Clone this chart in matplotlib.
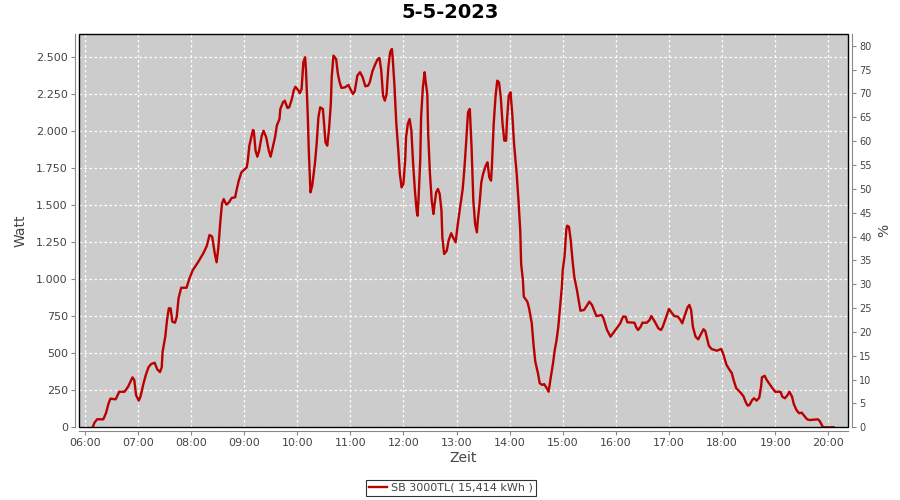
import numpy as np
import matplotlib
matplotlib.use('Agg')
from matplotlib import pyplot as plt
from matplotlib.ticker import FuncFormatter, MultipleLocator

# power readings of the inverter (time of day, watts)
zeit = ['06:09', '06:11', '06:14', '06:21', '06:24', '06:27', '06:29', '06:35', '06:39', '06:45',
        '06:49', '06:54', '06:56', '06:58', '07:01', '07:03', '07:06', '07:09', '07:12', '07:15',
        '07:19', '07:22', '07:25', '07:27', '07:28', '07:31', '07:33', '07:35', '07:37', '07:39',
        '07:42', '07:44', '07:46', '07:49', '07:55', '07:58', '08:02', '08:08', '08:14', '08:18',
        '08:21', '08:24', '08:27', '08:29', '08:31', '08:33', '08:35', '08:37', '08:40', '08:43',
        '08:46', '08:50', '08:51', '08:54', '08:57', '09:03', '09:04', '09:06', '09:10', '09:11',
        '09:13', '09:15', '09:17', '09:20', '09:22', '09:25', '09:28', '09:30', '09:32', '09:35',
        '09:37', '09:40', '09:41', '09:44', '09:46', '09:49', '09:51', '09:54', '09:56', '09:58',
        '10:01', '10:03', '10:05', '10:07', '10:09', '10:10', '10:12', '10:13', '10:15', '10:17',
        '10:20', '10:22', '10:24', '10:26', '10:29', '10:30', '10:32', '10:34', '10:36', '10:38',
        '10:39', '10:41', '10:44', '10:46', '10:48', '10:50', '10:54', '10:58', '11:00', '11:03',
        '11:05', '11:08', '11:11', '11:14', '11:17', '11:20', '11:22', '11:25', '11:28', '11:31',
        '11:33', '11:35', '11:37', '11:39', '11:41', '11:43', '11:45', '11:47', '11:48', '11:50',
        '11:52', '11:54', '11:56', '11:58', '12:00', '12:02', '12:03', '12:05', '12:07', '12:09',
        '12:11', '12:13', '12:15', '12:16', '12:17', '12:19', '12:20', '12:22', '12:24', '12:25',
        '12:27', '12:28', '12:30', '12:32', '12:34', '12:35', '12:37', '12:39', '12:41', '12:43',
        '12:44', '12:46', '12:49', '12:51', '12:54', '12:56', '12:59', '13:01', '13:03', '13:06',
        '13:07', '13:09', '13:11', '13:13', '13:15', '13:17', '13:19', '13:21', '13:23', '13:24',
        '13:26', '13:28', '13:30', '13:33', '13:35', '13:37', '13:39', '13:40', '13:42', '13:44',
        '13:46', '13:48', '13:50', '13:52', '13:54', '13:56', '13:57', '13:59', '14:01', '14:03',
        '14:05', '14:08', '14:10', '14:12', '14:13', '14:15', '14:16', '14:20', '14:22', '14:25',
        '14:27', '14:29', '14:32', '14:34', '14:37', '14:39', '14:42', '14:44', '14:46', '14:49',
        '14:51', '14:53', '14:55', '14:57', '14:59', '15:00', '15:02', '15:04', '15:05', '15:07',
        '15:09', '15:11', '15:13', '15:16', '15:18', '15:20', '15:24', '15:27', '15:30', '15:33',
        '15:36', '15:38', '15:44', '15:46', '15:50', '15:54', '15:58', '16:02', '16:05', '16:08',
        '16:11', '16:13', '16:21', '16:23', '16:25', '16:28', '16:30', '16:35', '16:38', '16:40',
        '16:44', '16:48', '16:51', '16:53', '16:57', '17:00', '17:03', '17:06', '17:10', '17:13',
        '17:15', '17:18', '17:21', '17:23', '17:25', '17:27', '17:30', '17:33', '17:36', '17:39',
        '17:41', '17:43', '17:45', '17:48', '17:54', '17:59', '18:01', '18:05', '18:08', '18:11',
        '18:13', '18:16', '18:20', '18:24', '18:27', '18:29', '18:31', '18:34', '18:36', '18:39',
        '18:42', '18:44', '18:45', '18:48', '18:50', '18:53', '18:57', '19:00', '19:06', '19:08',
        '19:11', '19:14', '19:16', '19:19', '19:21', '19:24', '19:27', '19:30', '19:32', '19:36',
        '19:39', '19:48', '19:50', '19:52', '19:54', '20:06']
watt = [0, 31, 54, 54, 95, 162, 193, 189, 240, 240,
        274, 337, 319, 218, 180, 207, 286, 353, 405, 427,
        436, 391, 373, 405, 510, 612, 724, 803, 803, 713,
        706, 747, 871, 942, 942, 999, 1060, 1114, 1175, 1226,
        1298, 1287, 1170, 1114, 1215, 1373, 1508, 1541, 1503, 1519,
        1548, 1553, 1586, 1665, 1721, 1755, 1789, 1901, 2007, 2002,
        1867, 1827, 1867, 1969, 2002, 1958, 1867, 1827, 1879, 1958,
        2036, 2081, 2149, 2194, 2205, 2156, 2160, 2216, 2272, 2299,
        2277, 2255, 2284, 2464, 2498, 2407, 2104, 1890, 1586, 1631,
        1778, 1913, 2093, 2160, 2149, 2081, 1924, 1901, 2014, 2183,
        2363, 2509, 2486, 2385, 2329, 2291, 2295, 2311, 2284, 2250,
        2268, 2374, 2397, 2363, 2302, 2306, 2329, 2403, 2448, 2486,
        2493, 2407, 2239, 2205, 2250, 2430, 2532, 2554, 2486, 2295,
        2048, 1890, 1710, 1620, 1643, 1800, 1958, 2048, 2081, 2002,
        1778, 1597, 1462, 1428, 1530, 1800, 2093, 2295, 2397, 2340,
        2250, 1980, 1710, 1530, 1440, 1496, 1586, 1609, 1575, 1462,
        1283, 1170, 1192, 1260, 1310, 1283, 1249, 1350, 1440, 1563,
        1609, 1755, 1935, 2127, 2149, 1890, 1530, 1373, 1316, 1395,
        1508, 1654, 1710, 1766, 1789, 1688, 1665, 1766, 2048, 2228,
        2340, 2329, 2228, 2048, 1935, 1935, 2070, 2239, 2262, 2115,
        1913, 1710, 1530, 1327, 1102, 994, 882, 848, 803, 702,
        556, 443, 365, 297, 286, 292, 263, 240, 319, 432,
        522, 589, 679, 814, 949, 1062, 1152, 1332, 1361, 1354,
        1264, 1129, 1017, 927, 859, 787, 792, 819, 848, 826,
        780, 751, 758, 736, 657, 612, 645, 679, 702, 747,
        747, 709, 706, 675, 657, 679, 706, 706, 724, 751,
        713, 668, 657, 679, 747, 799, 774, 751, 747, 724,
        702, 758, 810, 826, 792, 679, 612, 594, 628, 662,
        650, 601, 551, 529, 517, 529, 500, 421, 392, 365,
        319, 263, 240, 211, 166, 146, 151, 184, 196, 180,
        200, 274, 337, 348, 324, 297, 263, 240, 240, 207,
        196, 218, 240, 207, 157, 117, 95, 99, 83, 54,
        49, 54, 45, 22, 0, 0]

stunden = list(range(6, 21))
title = '5-5-2023'
legend_label = 'SB 3000TL( 15,414 kWh )'

def to_hours(s):
    h, m = s.split(':')
    return int(h) + int(m) / 60.0

x = np.array([to_hours(t) for t in zeit])
y = np.array(watt)

grau = '#444444'
plt.rcParams['font.family'] = ['DejaVu Sans']

fig = plt.figure(figsize=(9, 5), dpi=100)
ax = fig.add_axes([0.0878, 0.1454, 0.8544, 0.786])
ax.set_facecolor('#cccccc')

line, = ax.plot(x, y, color='#bb0000', lw=1.7, solid_joinstyle='round', zorder=3)

ax.set_xlim(5.893, 20.37)
ax.set_ylim(0, 2653)
ax.set_xticks(stunden)
ax.set_xticklabels(['%02d:00' % h for h in stunden])
ax.yaxis.set_major_locator(MultipleLocator(250))
ax.yaxis.set_major_formatter(FuncFormatter(lambda v, p: '{:,}'.format(int(v)).replace(',', '.')))
ax.grid(True, color='white', ls=(0, (2, 2)), lw=0.9, zorder=1)
ax.set_axisbelow(True)

# frame around the plot area, axis lines are pushed outward
for side in ['top', 'right']:
    ax.spines[side].set_visible(False)
for side in ['left', 'bottom']:
    ax.spines[side].set_position(('outward', 3))
    ax.spines[side].set_color('#888888')
frame = plt.Rectangle((0, 0), 1, 1, transform=ax.transAxes, fill=False,
                      edgecolor='black', lw=1.0, zorder=5, clip_on=False)
ax.add_patch(frame)

ax.tick_params(axis='both', colors='#888888', labelcolor=grau, labelsize=8, length=3, width=0.8, pad=2)
ax.set_xlabel('Zeit', fontsize=10, color=grau, labelpad=2)
ax.set_ylabel('Watt', fontsize=10, color=grau, labelpad=6)

ax2 = ax.twinx()
ax2.set_ylim(0, 82.4)
ax2.yaxis.set_major_locator(MultipleLocator(5))
for side in ['top', 'left', 'bottom']:
    ax2.spines[side].set_visible(False)
ax2.spines['right'].set_position(('outward', 3))
ax2.spines['right'].set_color('#888888')
ax2.tick_params(axis='y', colors='#888888', labelcolor=grau, labelsize=7, length=3, width=0.8, pad=2)
ax2.set_ylabel('%', fontsize=10, color=grau, labelpad=4)

fig.suptitle(title, x=0.5, y=0.995, fontsize=14, fontweight='bold', va='top')

leg = fig.legend([line], [legend_label], loc='center', bbox_to_anchor=(0.501, 0.024),
                 fontsize=8, frameon=True, fancybox=False, handlelength=1.6,
                 handletextpad=0.4, borderpad=0.3, borderaxespad=0)
leg.get_frame().set_edgecolor('black')
leg.get_frame().set_linewidth(0.8)
for t in leg.get_texts():
    t.set_color(grau)

fig.savefig('out.png', dpi=100)
